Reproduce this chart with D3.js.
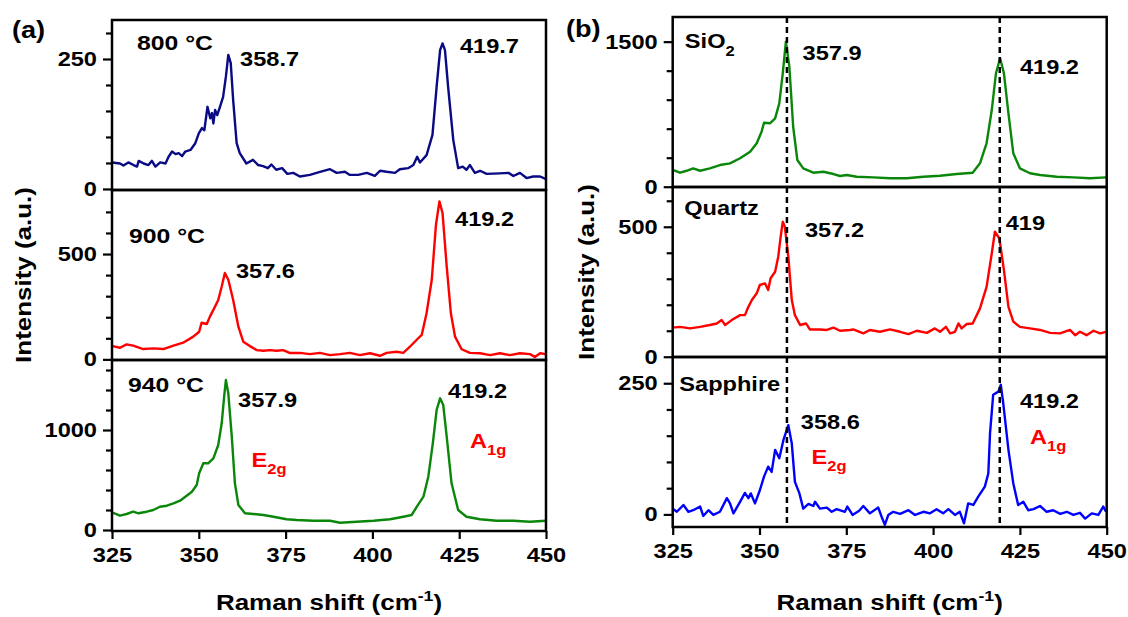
<!DOCTYPE html>
<html>
<head>
<meta charset="utf-8">
<script src="https://cdn.jsdelivr.net/npm/d3@7/dist/d3.min.js"></script>
<style>
  body { margin: 0; background: #fff; }
  svg { display: block; font-family: "Liberation Sans", Arial, sans-serif; font-weight: bold; }
  .tick line { stroke: #000; stroke-width: 2.2; }
  .domain { display: none; }
</style>
</head>
<body>
<script>
// Raman spectra, [shift (cm-1), intensity (a.u.)]
const s800 = [[325,51],[327.3,49],[328.3,45],[329.7,51],[331.2,46],[332.2,43],[332.7,54],[334.1,49],[335.5,46],[336.5,54],[337.5,43],[338.9,51],[340.4,49],[341.3,62],[342.3,72],[343.3,67],[344.2,69],[345.2,63],[346.1,72],[347.6,75],[349.0,88],[350.0,107],[350.9,117],[351.6,113],[352.5,158],[353.3,136],[353.8,146],[354.2,126],[354.7,152],[355.3,142],[356.1,158],[357.0,177],[357.8,216],[358.5,258],[359.2,242],[359.9,171],[360.9,88],[361.8,69],[363.7,49],[365.6,56],[367.1,46],[368.5,44],[369.9,40],[370.9,47],[372.3,37],[374.0,40],[375.5,29],[377.2,31],[379.1,24],[382.0,27],[384.9,33],[387.8,38],[389.7,31],[392.1,33],[393.5,27],[395.9,27],[398.4,31],[400.7,25],[402.2,35],[404.1,33],[406.5,31],[407.9,38],[410.3,40],[411.8,46],[412.9,62],[413.7,51],[415.6,65],[417.3,104],[418.5,197],[419.5,267],[420.2,280],[420.9,267],[421.8,197],[423.3,94],[424.7,40],[426.0,43],[427.1,37],[428.1,46],[429.5,31],[431.0,35],[432.9,29],[436.7,30],[439.2,31],[440.6,25],[442.5,31],[444.4,21],[446.3,24],[448.3,24],[450,19]];

const s900 = [[325.2,63],[327.3,55],[329.2,71],[331.1,65],[334.0,49],[336.9,52],[339.8,49],[342.7,65],[345.5,79],[348.4,108],[350.1,131],[350.8,174],[352.3,168],[353.2,203],[354.2,235],[355.6,282],[356.6,346],[357.5,410],[358.5,378],[359.9,282],[361.4,155],[362.8,84],[364.7,63],[366.7,44],[368.6,41],[370.5,44],[372.4,41],[374.3,44],[376.3,30],[379.1,31],[382.0,25],[384.9,31],[387.8,20],[390.7,25],[393.5,31],[396.4,20],[399.3,29],[402.2,17],[404.1,31],[407.0,36],[408.9,31],[410.8,60],[412.7,92],[414.2,116],[415.6,219],[417.1,378],[418.3,638],[419.3,750],[420.2,695],[421.4,441],[422.6,219],[423.8,108],[425.7,48],[428.1,31],[431.0,29],[433.9,20],[436.7,29],[439.6,20],[442.5,29],[445.4,25],[446.8,11],[448.3,29],[450,25]];

const s940 = [[325.2,173],[327.3,143],[329.2,160],[331.1,183],[332.6,167],[335.0,183],[336.9,200],[338.8,233],[340.8,243],[342.7,267],[344.6,293],[346.5,343],[348.0,383],[349.4,450],[350.1,567],[351.3,667],[352.7,667],[354.2,717],[355.6,850],[356.6,1067],[357.3,1333],[357.8,1500],[358.5,1367],[359.5,933],[360.4,467],[361.4,250],[363.3,167],[365.7,160],[368.6,150],[371.5,133],[375.3,107],[378.2,100],[383.0,93],[387.8,93],[390.7,73],[395.5,83],[400.3,93],[405.1,107],[408.9,133],[411.3,150],[412.8,233],[414.7,333],[416.1,533],[417.4,867],[418.5,1200],[419.5,1317],[420.4,1250],[421.4,933],[422.8,467],[424.7,200],[427.1,133],[431.0,107],[435.8,93],[440.6,93],[445.4,83],[450,93]];

const sSiO2 = [[325,173],[327.1,145],[329.0,165],[330.9,190],[332.9,165],[335.7,190],[338.6,224],[341.5,242],[344.4,294],[347.3,362],[349.2,449],[350.6,569],[351.3,662],[353.0,656],[354.5,707],[355.7,862],[356.7,1173],[357.6,1500],[358.6,1241],[359.7,620],[360.9,276],[362.6,190],[365.5,145],[368.4,155],[371.3,131],[373.2,111],[375.1,121],[378.0,103],[382.8,97],[387.6,87],[392.4,87],[397.2,103],[402.0,114],[406.8,131],[411.4,145],[413.5,242],[415.4,449],[416.9,793],[418.1,1173],[419.3,1328],[420.4,1173],[421.7,759],[423.1,345],[425.0,190],[427.9,139],[430.8,121],[435.6,103],[440.4,97],[445.2,87],[449.8,97]];

const sQuartz = [[325,112],[327.1,115],[330.0,109],[332.9,115],[335.7,122],[337.7,128],[339.1,141],[340.1,122],[342.0,141],[344.4,160],[345.8,160],[346.8,192],[347.8,218],[349.2,244],[350.1,276],[351.6,282],[352.5,257],[353.2,302],[354.5,327],[355.4,385],[356.1,462],[356.7,519],[357.3,500],[358.3,385],[359.3,218],[360.2,160],[361.7,122],[363.4,128],[364.5,105],[367.4,105],[369.4,103],[371.3,112],[373.2,100],[376.1,103],[377.0,105],[379.9,90],[381.8,103],[384.7,96],[387.6,105],[390.5,96],[392.9,87],[395.3,100],[398.2,92],[400.5,109],[402.0,96],[403.7,115],[404.9,90],[406.3,96],[407.3,128],[408.2,109],[409.7,126],[411.4,128],[413.5,186],[415.4,269],[416.9,398],[417.8,481],[419.1,455],[420.4,333],[421.7,192],[423.1,135],[425.0,115],[427.9,109],[430.8,103],[433.7,92],[436.6,90],[439.4,103],[440.9,83],[442.3,96],[444.2,83],[446.2,100],[448.1,90],[449.8,96]];

const sSapphire = [[325,11],[326.2,5],[328.1,18],[329.5,5],[330.9,8],[332.9,15],[333.8,-3],[335.3,8],[336.7,-1],[338.6,5],[340.6,31],[341.5,21],[342.5,2],[344.4,24],[345.8,41],[346.8,31],[347.5,40],[348.7,21],[350.1,46],[351.3,72],[352.5,91],[353.5,81],[354.5,123],[355.7,107],[356.9,142],[358.3,170],[359.3,135],[360.2,62],[361.5,40],[362.6,11],[364.1,20],[365.5,16],[366.0,24],[367.4,11],[369.4,13],[370.8,5],[372.2,10],[374.6,5],[375.3,15],[376.8,-1],[378.7,7],[379.9,16],[381.8,2],[384.2,13],[385.2,-5],[386.1,-20],[387.1,-1],[388.5,5],[390.5,1],[392.9,8],[394.8,-1],[397.2,5],[399.1,2],[401.0,10],[402.9,2],[404.4,10],[406.3,-1],[407.7,5],[408.9,-17],[410.1,21],[411.6,18],[413.0,34],[414.9,53],[415.9,78],[416.4,155],[417.3,228],[418.8,234],[419.5,247],[420.2,212],[421.7,123],[423.1,59],[424.5,18],[426.0,24],[427.4,8],[428.9,10],[430.8,16],[432.7,5],[434.6,8],[436.6,1],[438.5,5],[440.4,-1],[442.3,3],[443.8,-8],[445.7,2],[447.6,-1],[449.0,15],[449.8,5]];

const xTicks = [325, 350, 375, 400, 425, 450];
const peakLines = [357.9, 419.2];   // dashed guides in panel (b)

const width = 1128, height = 617;
const SX = 1.18;  // the figure's bold font runs wider than Arial

const svg = d3.select('body').append('svg')
  .attr('width', width)
  .attr('height', height);

function stretch(sel) {
  sel.each(function () {
    const t = d3.select(this);
    const x = +t.attr('x') || 0;
    t.attr('x', 0).attr('transform', `translate(${x},0) scale(${SX},1)`);
  });
}

// add a text with optional sub/superscript parts: parts = [[str, dy, size], ...]
function addText(g, x, y, parts, size, color, anchor) {
  const t = g.append('text')
    .attr('transform', `translate(${x},${y}) scale(${SX},1)`)
    .attr('font-size', size)
    .attr('fill', color || '#000')
    .attr('text-anchor', anchor || 'start');
  parts.forEach(p => {
    t.append('tspan').attr('dy', p[1] || 0).attr('font-size', p[2] || size).text(p[0]);
  });
  return t;
}

function styleAxis(a) {
  a.attr('font-size', 20).attr('font-family', null);
  a.selectAll('text').attr('fill', '#000').call(stretch);
}

const colA = { x0: 112, x1: 546 };
const colB = { x0: 672.7, x1: 1106.7 };

const panels = [
  { col: colA, top: 20, bottom: 190, dom: [-2, 325], major: [0, 250], minor: [50, 100, 150, 200, 300],
    data: s800, color: '#0a0a85',
    notes: [[332.2, 267, [['800 °C']], 21], [361.9, 237, [['358.7']]], [425.2, 262, [['419.7']]]] },
  { col: colA, top: 190, bottom: 360, dom: [-3, 804], major: [0, 500], minor: [100, 200, 300, 400, 600, 700],
    data: s900, color: '#ff0000',
    notes: [[329.9, 552, [['900 °C']], 21], [360.7, 385, [['357.6']]], [423.8, 635, [['419.2']]]] },
  { col: colA, top: 360, bottom: 531, dom: [-10, 1700], major: [0, 1000], minor: [200, 400, 600, 800, 1200, 1400, 1600],
    data: s940, color: '#0a870a', xAxis: true,
    notes: [[329.6, 1383, [['940 °C']], 21], [361.3, 1233, [['357.9']]], [421.8, 1317, [['419.2']]],
      [365.2, 633, [['E'], ['2g', 7, 14]], 20, '#ff0000'], [428.1, 817, [['A'], ['1g', 7, 14]], 20, '#ff0000']] },
  { col: colB, top: 17, bottom: 187, dom: [-3, 1755], major: [0, 1500], minor: [300, 600, 900, 1200],
    data: sSiO2, color: '#0a870a',
    notes: [[328.5, 1434, [['SiO'], ['2', 8, 14]]], [362.4, 1310, [['357.9']]], [425.0, 1166, [['419.2']]]] },
  { col: colB, top: 187, bottom: 357, dom: [-1, 653], major: [0, 500], minor: [100, 200, 300, 400, 600],
    data: sQuartz, color: '#ff0000',
    notes: [[328.3, 545, [['Quartz']]], [363.1, 462, [['357.2']]], [420.9, 487, [['419']]]] },
  { col: colB, top: 357, bottom: 527, dom: [-24, 300], major: [0, 250], minor: [50, 100, 150, 200],
    data: sSapphire, color: '#0000ff', xAxis: true,
    notes: [[326.9, 236, [['Sapphire']]], [361.9, 162, [['358.6']]], [425.0, 202, [['419.2']]],
      [365.0, 97, [['E'], ['2g', 7, 14]], 20, '#ff0000'], [427.9, 134, [['A'], ['1g', 7, 14]], 20, '#ff0000']] }
];

panels.forEach((p, i) => {
  const x = d3.scaleLinear().domain([325, 450]).range([p.col.x0, p.col.x1]);
  const y = d3.scaleLinear().domain(p.dom).range([p.bottom, p.top]);
  const g = svg.append('g');

  g.append('clipPath').attr('id', 'clip' + i)
    .append('rect')
    .attr('x', p.col.x0).attr('y', p.top)
    .attr('width', p.col.x1 - p.col.x0).attr('height', p.bottom - p.top);

  const line = d3.line().x(d => x(d[0])).y(d => y(d[1]));
  g.append('path')
    .datum(p.data)
    .attr('clip-path', `url(#clip${i})`)
    .attr('fill', 'none')
    .attr('stroke', p.color)
    .attr('stroke-width', 2.4)
    .attr('stroke-linejoin', 'round')
    .attr('d', line);

  // y axis: labelled major ticks + short minor ticks
  g.append('g')
    .attr('transform', `translate(${p.col.x0},0)`)
    .call(d3.axisLeft(y).tickValues(p.minor).tickSize(6).tickFormat(''));
  g.append('g')
    .attr('transform', `translate(${p.col.x0},0)`)
    .call(d3.axisLeft(y).tickValues(p.major).tickSize(9).tickPadding(6).tickFormat(d3.format('d')))
    .call(styleAxis);

  if (p.xAxis) {
    g.append('g')
      .attr('transform', `translate(0,${p.bottom})`)
      .call(d3.axisBottom(x).tickValues(xTicks).tickSize(8).tickPadding(9))
      .call(styleAxis);
  }

  p.notes.forEach(n => addText(g, x(n[0]), y(n[1]), n[2], n[3] || 20, n[4]));

  g.append('rect')
    .attr('x', p.col.x0).attr('y', p.top)
    .attr('width', p.col.x1 - p.col.x0).attr('height', p.bottom - p.top)
    .attr('fill', 'none')
    .attr('stroke', '#000')
    .attr('stroke-width', 2.5);
});

// dashed peak guides across all of panel (b)
const xb = d3.scaleLinear().domain([325, 450]).range([colB.x0, colB.x1]);
svg.append('g').selectAll('line')
  .data(peakLines)
  .join('line')
  .attr('x1', d => xb(d)).attr('x2', d => xb(d))
  .attr('y1', 17).attr('y2', 527)
  .attr('stroke', '#000')
  .attr('stroke-width', 2.5)
  .attr('stroke-dasharray', '6,4');

// panel letters and axis titles
addText(svg, 12, 38, [['(a)']], 23);
addText(svg, 566, 37, [['(b)']], 23);

[[colA, 31, 275], [colB, 594, 272]].forEach(c => {
  const cx = (c[0].x0 + c[0].x1) / 2;
  addText(svg, cx, 610, [['Raman shift (cm'], ['-1', -9, 15], [')', 9]], 22, '#000', 'middle');
  svg.append('text')
    .attr('transform', `translate(${c[1]},${c[2]}) rotate(-90) scale(${SX},1)`)
    .attr('font-size', 22)
    .attr('text-anchor', 'middle')
    .text('Intensity (a.u.)');
});
</script>
</body>
</html>
